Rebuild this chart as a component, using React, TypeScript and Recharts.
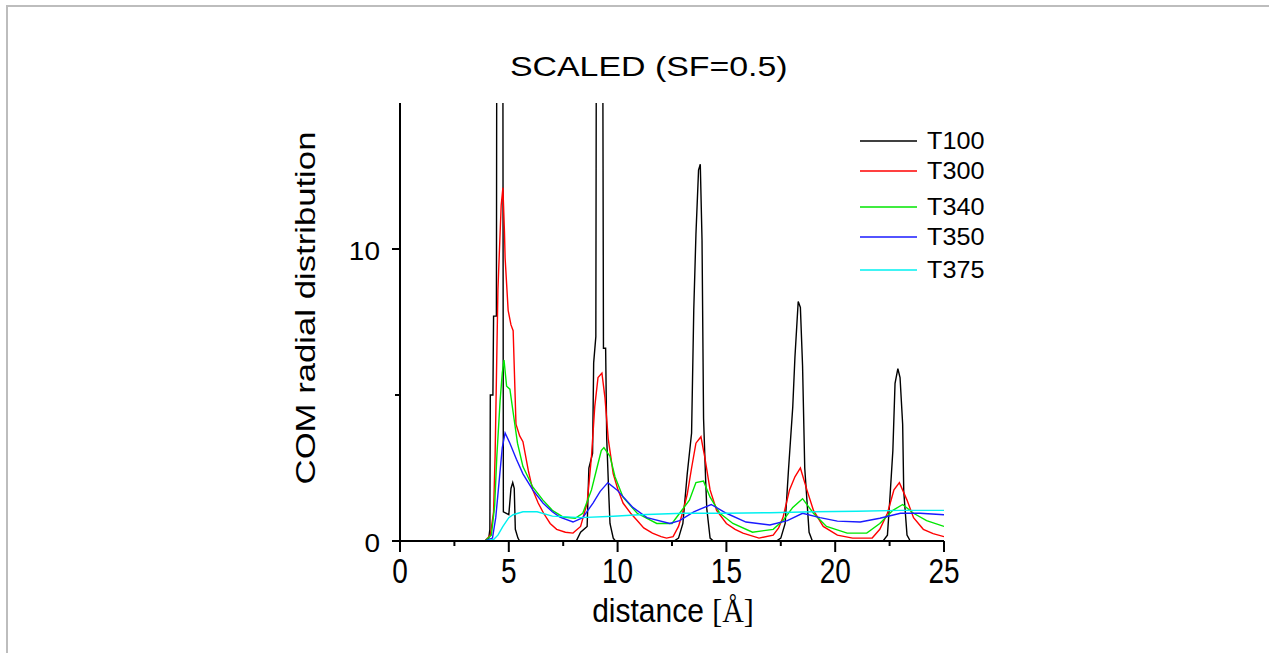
// Line chart of COM radial distribution vs distance for several temperatures
import { LineChart, Line, XAxis, YAxis, Legend } from "recharts";

const FONT = "'Liberation Sans', Arial, sans-serif";

// x ticks every 2.5 (labels only on multiples of 5), y ticks every 5 (labels on 0 and 10)
const X_TICKS = [0, 2.5, 5, 7.5, 10, 12.5, 15, 17.5, 20, 22.5, 25];
const Y_TICKS = [0, 5, 10];
const Y_LABELS = [0, 10];

// T100 - sharp peaks; the first two run off the top of the plot
const t100X = [3.9, 4.08, 4.13, 4.15, 4.27, 4.3, 4.43, 4.47, 4.71, 4.75, 5.0, 5.1, 5.18, 5.25, 5.3, 5.42, 5.5,
  8.1, 8.3, 8.6, 8.68, 8.85, 8.9, 9.0, 9.05, 9.28, 9.35, 9.45, 9.5, 9.6, 9.65, 9.8, 9.9,
  12.6, 12.8, 13.0, 13.2, 13.4, 13.5, 13.6, 13.72, 13.8, 13.88, 13.95, 14.05, 14.1, 14.25, 14.4,
  17.3, 17.5, 17.7, 17.85, 18.05, 18.15, 18.3, 18.4, 18.5, 18.6, 18.8, 18.95,
  22.2, 22.4, 22.5, 22.65, 22.75, 22.88, 22.98, 23.1, 23.15, 23.3, 23.45, 25];
const t100Y = [0, 0.1, 0.4, 5.0, 5.0, 7.7, 7.7, 30, 30, 1.0, 0.9, 1.8, 2.0, 1.8, 0.4, 0.1, 0,
  0, 0.3, 0.5, 2.5, 3.0, 6.1, 7.0, 30, 30, 6.6, 6.6, 3.5, 1.5, 0.6, 0.1, 0,
  0, 0.1, 0.6, 2.3, 3.7, 7.9, 10.5, 12.7, 12.9, 10.3, 4.2, 2.0, 1.1, 0.1, 0,
  0, 0.1, 0.6, 2.4, 4.6, 6.3, 8.2, 8.0, 6.0, 2.5, 0.3, 0,
  0, 0.2, 1.3, 3.1, 5.4, 5.9, 5.6, 4.0, 1.7, 0.2, 0, 0];

const t300X = [3.9, 4.15, 4.3, 4.37, 4.5, 4.65, 4.73, 4.8, 4.83, 4.97, 5.1, 5.2, 5.33, 5.5, 5.65, 5.9, 6.1, 6.35, 6.6,
  6.9, 7.2, 7.6, 7.95, 8.3, 8.6, 8.8, 8.95, 9.1, 9.28, 9.42, 9.57, 9.8, 10.0, 10.25, 10.6, 10.9, 11.2, 11.6,
  12.0, 12.25, 12.55, 12.8, 13.0, 13.2, 13.4, 13.6, 13.83, 14.0, 14.25, 14.55, 15.0, 15.4, 15.76, 16.5,
  17.15, 17.4, 17.6, 17.9, 18.15, 18.4, 18.7, 19.0, 19.45, 20.1, 20.8, 21.7, 22.05, 22.4, 22.7, 22.95,
  23.3, 23.6, 24.05, 24.5, 25];
const t300Y = [0, 0.2, 1.0, 2.9, 8.6, 11.5, 12.1, 10.6, 9.7, 7.9, 7.4, 7.2, 4.0, 3.6, 3.4, 2.4, 1.75, 1.3, 0.95,
  0.6, 0.4, 0.3, 0.27, 0.5, 1.3, 2.9, 4.6, 5.6, 5.75, 4.9, 3.5, 2.3, 1.8, 1.3, 0.95, 0.7, 0.45, 0.27,
  0.15, 0.1, 0.15, 0.5, 1.0, 1.6, 2.5, 3.35, 3.57, 2.9, 1.75, 1.05, 0.6, 0.4, 0.27, 0.1,
  0.2, 0.45, 0.8, 1.75, 2.2, 2.5, 1.75, 1.05, 0.5, 0.2, 0.1, 0.1, 0.4, 0.95, 1.75, 2.0,
  1.4, 0.8, 0.4, 0.25, 0.15];

const t340X = [3.9, 4.2, 4.35, 4.45, 4.6, 4.7, 4.78, 4.9, 5.05, 5.2, 5.4, 5.65, 6.1, 6.57, 7.0, 7.5, 8.05, 8.4,
  8.8, 9.05, 9.25, 9.37, 9.65, 9.88, 10.25, 10.9, 11.8, 12.5, 12.85, 13.3, 13.6, 13.95, 14.25, 14.7, 15.3,
  16.2, 17.15, 17.6, 18.05, 18.5, 19.0, 19.6, 20.55, 21.45, 22.05, 22.65, 23.1, 23.6, 24.2, 25];
const t340Y = [0, 0.2, 1.2, 2.9, 4.8, 5.75, 6.2, 5.3, 5.2, 4.4, 3.35, 2.55, 1.85, 1.4, 1.05, 0.82, 0.78, 0.95,
  1.75, 2.5, 3.1, 3.2, 2.9, 2.2, 1.5, 0.95, 0.6, 0.6, 0.95, 1.4, 2.0, 2.05, 1.5, 0.95, 0.6,
  0.3, 0.4, 0.7, 1.15, 1.45, 0.95, 0.5, 0.27, 0.27, 0.6, 1.05, 1.25, 0.95, 0.7, 0.5];

const t350X = [3.9, 4.25, 4.4, 4.55, 4.7, 4.83, 5.05, 5.35, 5.65, 6.1, 6.57, 7.0, 7.35, 7.95, 8.4, 8.87, 9.2,
  9.55, 9.97, 10.7, 11.35, 12.4, 12.85, 13.5, 14.3, 15.0, 15.9, 17.0, 17.8, 18.5, 19.3, 20.1, 21.15,
  22.05, 23.0, 23.9, 25];
const t350Y = [0, 0.1, 0.8, 2.0, 3.2, 3.7, 3.35, 2.8, 2.3, 1.75, 1.3, 1.0, 0.82, 0.65, 0.8, 1.3, 1.7,
  2.0, 1.75, 1.15, 0.8, 0.6, 0.7, 1.0, 1.25, 0.95, 0.65, 0.55, 0.7, 0.95, 0.8, 0.68, 0.65,
  0.78, 0.95, 0.95, 0.9];

const t375X = [3.9, 4.3, 4.5, 4.73, 5.0, 5.2, 5.65, 6.3, 7.0, 8.3, 9.8, 11, 13, 15, 17, 19, 21, 23, 25];
const t375Y = [0, 0.05, 0.2, 0.5, 0.8, 0.9, 1.0, 1.0, 0.85, 0.8, 0.85, 0.9, 0.95, 0.95, 0.97, 1.0, 1.02, 1.05, 1.05];

const SERIES = [
  { name: "T100", color: "#000000", xs: t100X, ys: t100Y },
  { name: "T300", color: "#ff0000", xs: t300X, ys: t300Y },
  { name: "T340", color: "#00e600", xs: t340X, ys: t340Y },
  { name: "T350", color: "#1a1aff", xs: t350X, ys: t350Y },
  { name: "T375", color: "#00f0f0", xs: t375X, ys: t375Y },
];

// legend row positions (relative to legend box) - spacing in the original is uneven
const LEGEND_ROWS = [13, 43, 79, 109, 142];

function toPoints(xs: number[], ys: number[]) {
  return xs.map((x, i) => ({ x, y: ys[i] }));
}

function XTick({ x, y, payload }: any) {
  const major = payload.value % 5 === 0;
  return (
    <g>
      <line x1={x} x2={x} y1={y} y2={y + (major ? 11 : 5)} stroke="#000" strokeWidth={2} />
      {major && (
        <text
          transform={`translate(${x},${y + 42}) scale(1,1.25)`}
          textAnchor="middle"
          fontFamily={FONT}
          fontSize={28}
          fill="#000"
        >
          {payload.value}
        </text>
      )}
    </g>
  );
}

function YTick({ x, y, payload }: any) {
  const labelled = Y_LABELS.includes(payload.value);
  return (
    <g>
      <line x1={x} x2={x - (labelled ? 8 : 5)} y1={y} y2={y} stroke="#000" strokeWidth={2} />
      {labelled && (
        <text
          transform={`translate(${x - 20},${y + 11}) scale(1,0.9)`}
          textAnchor="end"
          fontFamily={FONT}
          fontSize={28}
          fill="#000"
        >
          {payload.value}
        </text>
      )}
    </g>
  );
}

function XLabel({ viewBox }: any) {
  const cx = viewBox.x + viewBox.width / 2 + 1;
  return (
    <text
      transform={`translate(${cx},${viewBox.y + 81}) scale(1,1.1)`}
      textAnchor="middle"
      fontFamily={FONT}
      fontSize={30}
      fill="#000"
    >
      distance{" "}
      <tspan fontFamily="'Liberation Serif', serif">[Å]</tspan>
    </text>
  );
}

function YLabel({ viewBox }: any) {
  const cx = viewBox.x + viewBox.width - 85;
  const cy = viewBox.y + viewBox.height / 2 - 14;
  return (
    <text
      transform={`translate(${cx},${cy}) rotate(-90) scale(1.24,1)`}
      textAnchor="middle"
      fontFamily={FONT}
      fontSize={28}
      fill="#000"
    >
      COM radial distribution
    </text>
  );
}

function LegendBox() {
  return (
    <svg width={150} height={160}>
      {SERIES.map((s, i) => (
        <g key={s.name}>
          <line x1={0} x2={57} y1={LEGEND_ROWS[i]} y2={LEGEND_ROWS[i]} stroke={s.color} strokeWidth={1.5} />
          <text
            transform={`translate(67,${LEGEND_ROWS[i] + 8}) scale(1.05,1)`}
            fontFamily={FONT}
            fontSize={24}
            fill="#000"
          >
            {s.name}
          </text>
        </g>
      ))}
    </svg>
  );
}

export default function App() {
  return (
    <div style={{ position: "relative", width: 1253, height: 637 }}>
      {/* frame of the original screenshot: only top and left edges show */}
      <div
        style={{
          position: "fixed",
          left: 6,
          top: 5,
          width: 1263,
          height: 648,
          boxSizing: "border-box",
          borderTop: "2px solid #bdbdbd",
          borderLeft: "2px solid #bdbdbd",
          pointerEvents: "none",
          zIndex: 5,
        }}
      />
      <div
        style={{
          position: "absolute",
          left: 0,
          width: 1282,
          top: 45,
          textAlign: "center",
          fontFamily: FONT,
          fontSize: 28,
          lineHeight: "28px",
          color: "#000",
        }}
      >
        <span style={{ display: "inline-block", transform: "scale(1.21,1)" }}>SCALED (SF=0.5)</span>
      </div>
      <LineChart width={1253} height={637} margin={{ top: 95, right: 317, bottom: 44, left: 332 }}>
        <XAxis
          type="number"
          dataKey="x"
          domain={[0, 25]}
          ticks={X_TICKS}
          allowDataOverflow
          interval={0}
          tickSize={0}
          tickMargin={0}
          tickLine={false}
          tick={XTick}
          height={60}
          axisLine={{ stroke: "#000", strokeWidth: 2 }}
          label={XLabel}
        />
        <YAxis
          type="number"
          dataKey="y"
          domain={[0, 15]}
          ticks={Y_TICKS}
          allowDataOverflow
          interval={0}
          tickSize={0}
          tickMargin={0}
          tickLine={false}
          tick={YTick}
          width={60}
          axisLine={{ stroke: "#000", strokeWidth: 2 }}
          label={YLabel}
        />
        <Legend
          layout="horizontal"
          verticalAlign="middle"
          align="center"
          content={() => <LegendBox />}
          wrapperStyle={{ position: "absolute", left: 852, top: 120, width: 150, height: 160 }}
        />
        {SERIES.map((s) => (
          <Line
            key={s.name}
            name={s.name}
            data={toPoints(s.xs, s.ys)}
            dataKey="y"
            type="linear"
            stroke={s.color}
            strokeWidth={1.4}
            dot={false}
            activeDot={false}
            isAnimationActive={false}
          />
        ))}
      </LineChart>
    </div>
  );
}
